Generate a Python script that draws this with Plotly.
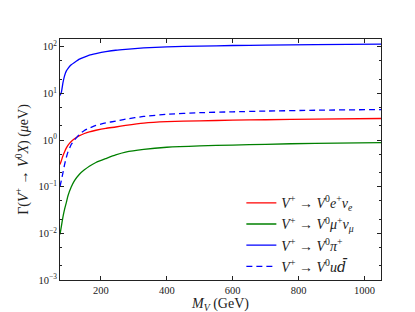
import plotly.graph_objects as go

# Data
mass = [76, 80, 85, 90, 95, 100, 110, 120, 135, 150, 165, 185, 215, 245, 275, 330, 400, 500, 600, 700, 850, 1050]
gamma_e = [0.30, 0.36, 0.46, 0.56, 0.67, 0.77, 0.93, 1.06, 1.24, 1.38, 1.50, 1.62, 1.78, 1.90, 2.05, 2.30, 2.47, 2.58, 2.66, 2.72, 2.80, 2.89]
gamma_mu = [0.0095, 0.014, 0.0225, 0.033, 0.045, 0.063, 0.098, 0.135, 0.185, 0.23, 0.275, 0.33, 0.40, 0.48, 0.55, 0.63, 0.70, 0.75, 0.78, 0.81, 0.85, 0.88]
gamma_pi = [9.0, 10.5, 17, 24, 30, 34, 41, 46, 54, 60, 66, 71, 78, 84, 88, 94, 99, 103, 106, 108, 111, 114]
gamma_ud = [0.10, 0.135, 0.20, 0.30, 0.42, 0.55, 0.80, 1.0, 1.33, 1.6, 1.8, 2.05, 2.32, 2.55, 2.8, 3.2, 3.55, 3.85, 4.02, 4.17, 4.35, 4.5]

x_ticks = [200, 400, 600, 800, 1000]
y_tick_vals = [1e-3, 1e-2, 1e-1, 1e0, 1e1, 1e2]
y_tick_text = ["10<sup>−3</sup>", "10<sup>−2</sup>", "10<sup>−1</sup>", "10<sup>0</sup>", "10<sup>1</sup>", "10<sup>2</sup>"]

names = [
    "<i>V</i><sup>+</sup> → <i>V</i><sup>0</sup><i>e</i><sup>+</sup><i>ν</i><sub><i>e</i></sub>",
    "<i>V</i><sup>+</sup> → <i>V</i><sup>0</sup><i>μ</i><sup>+</sup><i>ν</i><sub><i>μ</i></sub>",
    "<i>V</i><sup>+</sup> → <i>V</i><sup>0</sup><i>π</i><sup>+</sup>",
    "<i>V</i><sup>+</sup> → <i>V</i><sup>0</sup><i>u</i><span style=\"font-family:DejaVu Serif\"><i>d\u0304</i></span>",
]
series = [gamma_e, gamma_mu, gamma_pi, gamma_ud]
colors = ["#ff0000", "#008000", "#0000ff", "#0000ff"]
dashes = ["solid", "solid", "solid", "6px,4px"]

FONT = "Liberation Serif"
INK = "#222"

fig = go.Figure()
for n, s, c, d in zip(names, series, colors, dashes):
    fig.add_trace(go.Scatter(
        x=mass, y=s, mode="lines", name=n,
        line=dict(color=c, width=1.3, dash=d, shape="spline", smoothing=0.5),
    ))

fig.update_layout(
    width=415, height=312,
    margin=dict(l=52, r=42, t=31, b=31),
    paper_bgcolor="white", plot_bgcolor="white",
    font=dict(family=FONT, size=11, color=INK),
    showlegend=True,
    legend=dict(
        x=0.565, y=0.385, xanchor="left", yanchor="top",
        bgcolor="rgba(0,0,0,0)", borderwidth=0,
        font=dict(family=FONT, size=14, color=INK),
        tracegroupgap=0, itemwidth=30,
    ),
)

fig.update_xaxes(
    range=[76, 1050],
    tickvals=x_ticks,
    ticks="inside", ticklen=4, tickcolor=INK,
    showline=True, linecolor=INK, linewidth=1, mirror="allticks",
    showgrid=False, zeroline=False,
    tickfont=dict(family=FONT, size=10.5, color=INK),
    title=dict(text="<i>M</i><sub><i>V</i></sub> (GeV)", font=dict(family=FONT, size=14, color=INK), standoff=3),
)
fig.update_yaxes(
    type="log",
    range=[-3, 2.165],
    tickvals=y_tick_vals, ticktext=y_tick_text,
    ticks="inside", ticklen=4, tickcolor=INK,
    minor=dict(ticks="inside", ticklen=2, tickcolor=INK, showgrid=False),
    showline=True, linecolor=INK, linewidth=1, mirror="allticks",
    showgrid=False, zeroline=False,
    tickfont=dict(family=FONT, size=10.5, color=INK),
    title=dict(text="Γ(<i>V</i><sup>+</sup> → <i>V</i><sup>0</sup><i>X</i>) (<i>μ</i>eV)", font=dict(family=FONT, size=14, color=INK), standoff=6),
)

fig.write_html("out.html")
